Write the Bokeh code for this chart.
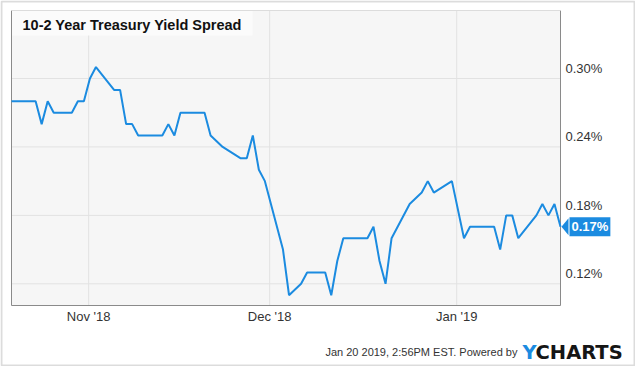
import pandas as pd
from bokeh.plotting import figure
from bokeh.models import (Range1d, Label, BoxAnnotation, PolyAnnotation)
from bokeh.core.properties import value
from bokeh.embed import file_html
from bokeh.resources import INLINE

# ---------------- data ----------------
title_text = "10-2 Year Treasury Yield Spread"
dates = [
    "2018-10-19", "2018-10-22", "2018-10-23", "2018-10-24", "2018-10-25", "2018-10-26",
    "2018-10-29", "2018-10-30", "2018-10-31", "2018-11-01", "2018-11-02",
    "2018-11-05", "2018-11-06", "2018-11-07", "2018-11-08", "2018-11-09",
    "2018-11-13", "2018-11-14", "2018-11-15", "2018-11-16",
    "2018-11-19", "2018-11-20", "2018-11-21", "2018-11-23",
    "2018-11-26", "2018-11-27", "2018-11-28", "2018-11-29", "2018-11-30",
    "2018-12-03", "2018-12-04", "2018-12-06", "2018-12-07",
    "2018-12-10", "2018-12-11", "2018-12-12", "2018-12-13", "2018-12-14",
    "2018-12-17", "2018-12-18", "2018-12-19", "2018-12-20", "2018-12-21",
    "2018-12-24", "2018-12-26", "2018-12-27", "2018-12-28",
    "2018-12-31", "2019-01-02", "2019-01-03", "2019-01-04",
    "2019-01-07", "2019-01-08", "2019-01-09", "2019-01-10", "2019-01-11",
    "2019-01-14", "2019-01-15", "2019-01-16", "2019-01-17", "2019-01-18",
]
spread = [
    0.28, 0.28, 0.28, 0.26, 0.28, 0.27,
    0.27, 0.28, 0.28, 0.30, 0.31,
    0.29, 0.29, 0.26, 0.26, 0.25,
    0.25, 0.26, 0.25, 0.27,
    0.27, 0.27, 0.25, 0.24,
    0.23, 0.23, 0.25, 0.22, 0.21,
    0.15, 0.11, 0.12, 0.13,
    0.13, 0.11, 0.14, 0.16, 0.16,
    0.16, 0.17, 0.14, 0.12, 0.16,
    0.19, 0.20, 0.21, 0.20,
    0.21, 0.16, 0.17, 0.17,
    0.17, 0.15, 0.18, 0.18, 0.16,
    0.18, 0.19, 0.18, 0.19, 0.17,
]
y_ticks = [0.12, 0.18, 0.24, 0.30]
y_tick_labels = ["0.12%", "0.18%", "0.24%", "0.30%"]
x_ticks = ["2018-11-01", "2018-12-01", "2019-01-01"]
x_tick_labels = ["Nov '18", "Dec '18", "Jan '19"]
last_label = "0.17%"
footer_text = "Jan 20 2019, 2:56PM EST.  Powered by"
logo_y = "Y"
logo_rest = "CHARTS"

# ---------------- styling ----------------
BLUE = "#1b8be0"
TEXT = "#333333"
GRID = "#e2e2e2"
EDGE = "#8a8a8a"
FONT = "Liberation Sans"
W, H = 635, 366
LEFT, RIGHT, TOP, BOTTOM = 11, 75, 10, 61          # plot-area margins (px)
AREA_W = W - LEFT - RIGHT
AREA_H = H - TOP - BOTTOM

x = pd.to_datetime(dates) + pd.Timedelta(hours=5)   # midnight EST
x_start, x_end = x[0], x[-1]
y_min, y_max = 0.101, 0.3596

# the drawing frame spans the whole canvas; the plot area is the data extent
ms0, ms1 = x_start.value / 1e6, x_end.value / 1e6
ms_per_px = (ms1 - ms0) / AREA_W
val_per_px = (y_max - y_min) / AREA_H
x_range = Range1d(ms0 - LEFT * ms_per_px, ms1 + RIGHT * ms_per_px)
y_range = Range1d(y_min - BOTTOM * val_per_px, y_max + TOP * val_per_px)

p = figure(width=W, height=H, x_axis_location=None, y_axis_location=None,
           output_backend="svg", toolbar_location=None,
           x_range=x_range, y_range=y_range,
           min_border=0)
p.grid.visible = False
p.outline_line_color = None
p.background_fill_color = "white"
p.border_fill_color = "white"

# plot area background
p.add_layout(BoxAnnotation(left=ms0, right=ms1, bottom=y_min, top=y_max,
                           fill_color="#f6f6f6", fill_alpha=1, line_color=None,
                           level="underlay"))

# gridlines
tick_ms = [pd.Timestamp(t).value / 1e6 for t in x_ticks]
p.segment(x0=[ms0] * len(y_ticks), x1=[ms1] * len(y_ticks), y0=y_ticks, y1=y_ticks,
          line_color=GRID, line_width=1)
p.segment(x0=tick_ms, x1=tick_ms, y0=[y_min] * len(tick_ms), y1=[y_max] * len(tick_ms),
          line_color=GRID, line_width=1)

# plot area border (left/bottom/right dark, top light)
p.segment(x0=[ms0, ms0, ms1], x1=[ms0, ms1, ms1], y0=[y_max, y_min, y_min],
          y1=[y_min, y_min, y_max], line_color=EDGE, line_width=1)
p.segment(x0=[ms0], x1=[ms1], y0=[y_max], y1=[y_max], line_color="#dcdcdc", line_width=1)

# title box
p.add_layout(BoxAnnotation(left=LEFT + 0.5, right=252, top=TOP + 0.5, bottom=35,
                           left_units="canvas", right_units="canvas",
                           top_units="canvas", bottom_units="canvas",
                           fill_color="#fbfbfb", fill_alpha=1, line_color=None))
p.add_layout(Label(x=22, y=24.5, x_units="canvas", y_units="canvas", text=title_text,
                   text_font=FONT, text_font_style="bold", text_font_size="14.5px",
                   text_color="#111111", text_baseline="alphabetic"))

# series line
p.line([t.value / 1e6 for t in x], spread, line_color=BLUE, line_width=2)

# x tick labels
p.text(x=tick_ms, y=[y_min] * len(tick_ms), text=x_tick_labels, y_offset=11,
       text_align="center", text_baseline="alphabetic", text_font=value(FONT),
       text_font_size="13px", text_color=TEXT)

# right-side y labels (sit above their gridlines)
p.text(x=[ms1] * len(y_ticks), y=y_ticks, text=y_tick_labels, x_offset=5, y_offset=-10,
       text_align="left", text_baseline="alphabetic", text_font=value(FONT),
       text_font_size="13px", text_color=TEXT)

# last value badge
v = spread[-1]
p.add_layout(PolyAnnotation(xs=[ms1 + 1 * ms_per_px, ms1 + 8 * ms_per_px, ms1 + 8 * ms_per_px],
                            ys=[v, v + 8.5 * val_per_px, v - 8.5 * val_per_px],
                            fill_color=BLUE, fill_alpha=1, line_color=None))
p.add_layout(Label(x=ms1, y=v, text=last_label, x_offset=9, text_baseline="middle",
                   text_font=FONT, text_font_style="bold", text_font_size="13px",
                   text_color="white", background_fill_color=BLUE, background_fill_alpha=1,
                   padding=2))

# footer
p.add_layout(Label(x=520, y=351, x_units="canvas", y_units="canvas", text=footer_text,
                   text_align="right", text_baseline="alphabetic", text_font=FONT,
                   text_font_size="11px", text_color=TEXT))
p.add_layout(Label(x=522, y=352, x_units="canvas", y_units="canvas", text=logo_y,
                   text_baseline="alphabetic", text_font="DejaVu Sans",
                   text_font_style="bold", text_font_size="19.5px", text_color=BLUE))
p.add_layout(Label(x=535, y=352, x_units="canvas", y_units="canvas", text=logo_rest,
                   text_baseline="alphabetic", text_font="DejaVu Sans",
                   text_font_style="bold", text_font_size="19.5px", text_color="#151515"))

# outer border
p.add_layout(BoxAnnotation(left=1, right=W - 1, top=1, bottom=H - 1,
                           left_units="canvas", right_units="canvas",
                           top_units="canvas", bottom_units="canvas",
                           fill_alpha=0, line_color=EDGE, line_width=2))

open("out.html", "w").write(file_html(p, INLINE))
